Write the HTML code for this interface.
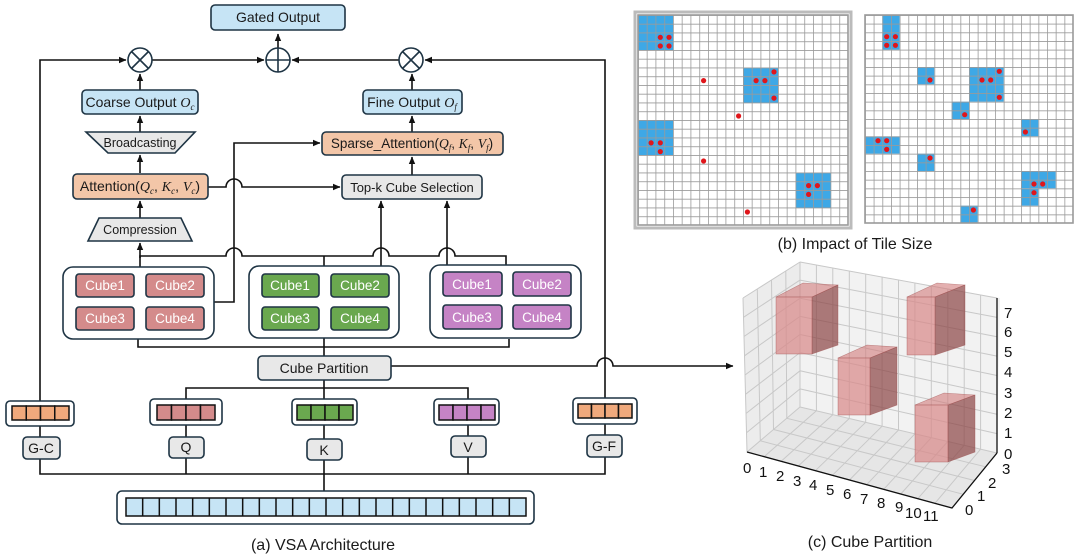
<!DOCTYPE html>
<html><head><meta charset="utf-8"><style>
html,body{margin:0;padding:0;background:#fff}
svg{display:block}
text{font-family:"Liberation Sans","DejaVu Sans",sans-serif}
.m{font-family:"Liberation Serif",serif;font-style:italic}
</style></head><body>
<svg width="1080" height="559" viewBox="0 0 1080 559" xmlns="http://www.w3.org/2000/svg">
<defs>
<marker id="a" markerWidth="8" markerHeight="8" refX="7" refY="4" orient="auto" markerUnits="userSpaceOnUse"><path d="M0,0.8 L7.5,4 L0,7.2 z" fill="#111"/></marker>
<pattern id="g1" x="638" y="15" width="8.75" height="8.75" patternUnits="userSpaceOnUse"><path d="M0,0 H8.75 M0,0 V8.75" stroke="#9a9a9a" stroke-width="1.6" fill="none"/></pattern>
<pattern id="g2" x="865" y="15" width="8.67" height="8.67" patternUnits="userSpaceOnUse"><path d="M0,0 H8.67 M0,0 V8.67" stroke="#9a9a9a" stroke-width="1.6" fill="none"/></pattern>
</defs>
<g stroke="#111" stroke-width="1.6" fill="none">
<path d="M278,48 V34" marker-end="url(#a)"/>
<path d="M40,410 V60 H126" marker-end="url(#a)"/>
<path d="M152,60 H264" marker-end="url(#a)"/>
<path d="M399,60 H292" marker-end="url(#a)"/>
<path d="M605,398 V60 H425" marker-end="url(#a)"/>
<path d="M140,90 V74" marker-end="url(#a)"/>
<path d="M412,90 V74" marker-end="url(#a)"/>
<path d="M140,132 V116" marker-end="url(#a)"/>
<path d="M412,132 V116" marker-end="url(#a)"/>
<path d="M140,173 V155" marker-end="url(#a)"/>
<path d="M412,175 V157" marker-end="url(#a)"/>
<path d="M140,218 V201" marker-end="url(#a)"/>
<path d="M208,187 H226 a8,8 0 0 1 16,0 H340" marker-end="url(#a)"/>
<path d="M214,302 H234 V143 H320" marker-end="url(#a)"/>
<path d="M140,267 V256 H226 a8,8 0 0 1 16,0 H373 a8,8 0 0 1 16,0 H439 a8,8 0 0 1 16,0 H506 V266"/>
<path d="M140,258 V243" marker-end="url(#a)"/>
<path d="M324,256 V266"/>
<path d="M381,266 V201" marker-end="url(#a)"/>
<path d="M447,266 V201" marker-end="url(#a)"/>
<path d="M138,339 V347 H509 V339 M324,338 V356"/>
<path d="M391,366 H597 a8,8 0 0 1 16,0 H733" marker-end="url(#a)"/>
<path d="M324,380 V399 M324,388 H186 V399 M324,388 H468 V399"/>
<path d="M40,426 V437 M186,425 V437 M324,425 V439 M468,425 V436 M605,424 V435"/>
<path d="M40,459 V474 H605 V457 M186,458 V474 M324,460 V491 M468,457 V474"/>
</g>
<g stroke="#1e3444" stroke-width="1.6" fill="#fff">
<circle cx="140" cy="60" r="12"/><path d="M131.5,51.5 L148.5,68.5 M148.5,51.5 L131.5,68.5"/>
<circle cx="278" cy="60" r="12"/><path d="M266,60 H290 M278,48 V72"/>
<circle cx="411" cy="60" r="12"/><path d="M402.5,51.5 L419.5,68.5 M419.5,51.5 L402.5,68.5"/>
</g>
<g stroke="#1e3444" stroke-width="1.6">
<rect x="211" y="5" width="134" height="25" rx="4" fill="#c6e4f5"/>
<rect x="82" y="90" width="116" height="24" rx="4" fill="#c6e4f5"/>
<rect x="363" y="90" width="99" height="24" rx="4" fill="#c6e4f5"/>
<polygon points="86,132 195,132 175,153 108,153" fill="#e8e8e8"/>
<rect x="322" y="132" width="181" height="23" rx="4" fill="#f3c6a8"/>
<rect x="73" y="174" width="135" height="25" rx="4" fill="#f3c6a8"/>
<rect x="342" y="175" width="140" height="24" rx="4" fill="#e8e8e8"/>
<polygon points="99,218 181,218 192,241 88,241" fill="#e8e8e8"/>
<rect x="63" y="267" width="151" height="72" rx="10" fill="#fff"/>
<rect x="249" y="266" width="150" height="72" rx="10" fill="#fff"/>
<rect x="430" y="265" width="151" height="73" rx="10" fill="#fff"/>
<g fill="#d48b8b"><rect x="76" y="274" width="58" height="23" rx="3"/><rect x="146" y="274" width="58" height="23" rx="3"/><rect x="76" y="307" width="58" height="23" rx="3"/><rect x="146" y="307" width="58" height="23" rx="3"/></g>
<g fill="#6aa84f"><rect x="262" y="274" width="57" height="23" rx="3"/><rect x="331" y="274" width="58" height="23" rx="3"/><rect x="262" y="307" width="57" height="23" rx="3"/><rect x="331" y="307" width="58" height="23" rx="3"/></g>
<g fill="#c583c5"><rect x="443" y="272" width="59" height="24" rx="3"/><rect x="513" y="272" width="58" height="24" rx="3"/><rect x="443" y="305" width="59" height="24" rx="3"/><rect x="513" y="305" width="58" height="24" rx="3"/></g>
<rect x="258" y="356" width="133" height="24" rx="4" fill="#e8e8e8"/>
<rect x="6" y="401" width="68" height="25" rx="4" fill="#fff"/>
<rect x="150" y="399" width="72" height="26" rx="4" fill="#fff"/>
<rect x="292" y="399" width="65" height="26" rx="4" fill="#fff"/>
<rect x="434" y="399" width="65" height="26" rx="4" fill="#fff"/>
<rect x="573" y="398" width="64" height="26" rx="4" fill="#fff"/>
<rect x="23" y="437" width="37" height="22" rx="4" fill="#e8e8e8"/>
<rect x="169" y="437" width="35" height="21" rx="4" fill="#e8e8e8"/>
<rect x="307" y="439" width="35" height="21" rx="4" fill="#e8e8e8"/>
<rect x="451" y="436" width="35" height="21" rx="4" fill="#e8e8e8"/>
<rect x="587" y="435" width="35" height="22" rx="4" fill="#e8e8e8"/>
<rect x="117" y="491" width="417" height="33" rx="5" fill="#fff"/>
</g>
<g stroke="#111" stroke-width="1.5">
<g fill="#f0a97c"><rect x="12" y="406" width="14.25" height="14"/><rect x="26.25" y="406" width="14.25" height="14"/><rect x="40.5" y="406" width="14.25" height="14"/><rect x="54.75" y="406" width="14.25" height="14"/></g>
<g fill="#d48b8b"><rect x="157" y="405" width="14.5" height="15"/><rect x="171.5" y="405" width="14.5" height="15"/><rect x="186" y="405" width="14.5" height="15"/><rect x="200.5" y="405" width="14.5" height="15"/></g>
<g fill="#6aa84f"><rect x="297" y="405" width="14" height="15"/><rect x="311" y="405" width="14" height="15"/><rect x="325" y="405" width="14" height="15"/><rect x="339" y="405" width="14" height="15"/></g>
<g fill="#c583c5"><rect x="439" y="405" width="14" height="15"/><rect x="453" y="405" width="14" height="15"/><rect x="467" y="405" width="14" height="15"/><rect x="481" y="405" width="14" height="15"/></g>
<g fill="#f0a97c"><rect x="578" y="404" width="13.5" height="14"/><rect x="591.5" y="404" width="13.5" height="14"/><rect x="605" y="404" width="13.5" height="14"/><rect x="618.5" y="404" width="13.5" height="14"/></g>
<rect x="126" y="498" width="400" height="18" fill="#c6e4f5"/>
<path fill="none" d="M142.67,498V516M159.33,498V516M176,498V516M192.67,498V516M209.33,498V516M226,498V516M242.67,498V516M259.33,498V516M276,498V516M292.67,498V516M309.33,498V516M326,498V516M342.67,498V516M359.33,498V516M376,498V516M392.67,498V516M409.33,498V516M426,498V516M442.67,498V516M459.33,498V516M476,498V516M492.67,498V516M509.33,498V516"/>
</g>
<g font-size="14" fill="#1a1a1a" text-anchor="middle">
<text x="278" y="22">Gated Output</text>
<text x="140" y="107">Coarse Output <tspan class="m">O</tspan><tspan class="m" font-size="9" dy="3">c</tspan></text>
<text x="412" y="107">Fine Output <tspan class="m">O</tspan><tspan class="m" font-size="9" dy="3">f</tspan></text>
<text x="140" y="147" font-size="12.5">Broadcasting</text>
<text x="412" y="148" font-size="13.5">Sparse_Attention(<tspan class="m">Q</tspan><tspan class="m" font-size="9" dy="3">f</tspan><tspan dy="-3">, </tspan><tspan class="m">K</tspan><tspan class="m" font-size="9" dy="3">f</tspan><tspan dy="-3">, </tspan><tspan class="m">V</tspan><tspan class="m" font-size="9" dy="3">f</tspan><tspan dy="-3">)</tspan></text>
<text x="140" y="191">Attention(<tspan class="m">Q</tspan><tspan class="m" font-size="9" dy="3">c</tspan><tspan dy="-3">, </tspan><tspan class="m">K</tspan><tspan class="m" font-size="9" dy="3">c</tspan><tspan dy="-3">, </tspan><tspan class="m">V</tspan><tspan class="m" font-size="9" dy="3">c</tspan><tspan dy="-3">)</tspan></text>
<text x="412" y="192" font-size="13">Top-k Cube Selection</text>
<text x="140" y="234" font-size="12.5">Compression</text>
<text x="324" y="373">Cube Partition</text>
<text x="41" y="453">G-C</text><text x="186" y="452">Q</text><text x="324" y="455">K</text><text x="468" y="452">V</text><text x="604" y="451">G-F</text>
<g fill="#fff" font-size="13.5">
<text x="105" y="290">Cube1</text><text x="175" y="290">Cube2</text><text x="105" y="323">Cube3</text><text x="175" y="323">Cube4</text>
<text x="290" y="290">Cube1</text><text x="360" y="290">Cube2</text><text x="290" y="323">Cube3</text><text x="360" y="323">Cube4</text>
<text x="472" y="289">Cube1</text><text x="542" y="289">Cube2</text><text x="472" y="322">Cube3</text><text x="542" y="322">Cube4</text>
</g>
<text x="323" y="550" font-size="16">(a) VSA Architecture</text>
<text x="855" y="249" font-size="16">(b) Impact of Tile Size</text>
<text x="870" y="547" font-size="16">(c) Cube Partition</text>
</g>
<rect x="635" y="12" width="216" height="216" fill="#fff" stroke="#bbb" stroke-width="3"/>
<g fill="#3ea8e6">
<rect x="638" y="15" width="35" height="35"/><rect x="743" y="67.5" width="35" height="35"/><rect x="638" y="120" width="35" height="35"/><rect x="795.5" y="172.5" width="35" height="35"/>
</g>
<rect x="638" y="15" width="210" height="210" fill="url(#g1)"/>
<rect x="638" y="15" width="210" height="210" fill="none" stroke="#9a9a9a" stroke-width="1.6"/>
<g fill="#e0161b">
<circle cx="660.3" cy="37.3" r="2.6"/><circle cx="669" cy="37.3" r="2.6"/><circle cx="660.3" cy="46" r="2.6"/><circle cx="669" cy="46" r="2.6"/>
<circle cx="774" cy="71.9" r="2.6"/><circle cx="756.1" cy="80.6" r="2.6"/><circle cx="764.9" cy="80.6" r="2.6"/><circle cx="774" cy="98.1" r="2.6"/>
<circle cx="651.1" cy="142.9" r="2.6"/><circle cx="660.3" cy="142.9" r="2.6"/><circle cx="660.3" cy="151.6" r="2.6"/>
<circle cx="808.6" cy="185.6" r="2.6"/><circle cx="817.4" cy="185.6" r="2.6"/><circle cx="808.6" cy="194.4" r="2.6"/>
<circle cx="703.6" cy="80.6" r="2.6"/><circle cx="738.6" cy="116" r="2.6"/><circle cx="703.6" cy="161" r="2.6"/><circle cx="747.4" cy="212" r="2.6"/>
</g>
<rect x="865" y="15" width="208" height="208" fill="#fff"/>
<g fill="#3ea8e6">
<rect x="882.3" y="15" width="17.3" height="34.7"/>
<rect x="917" y="67" width="17.3" height="17.3"/>
<rect x="969" y="67" width="34.7" height="34.7"/>
<rect x="951.7" y="101.7" width="17.3" height="17.3"/>
<rect x="1021" y="119" width="17.3" height="17.3"/>
<rect x="865" y="136.4" width="34.7" height="17.3"/>
<rect x="917" y="153.7" width="17.3" height="17.3"/>
<rect x="1021" y="171" width="34.7" height="17.3"/><rect x="1021" y="188.4" width="17.3" height="17.3"/>
<rect x="960.4" y="205.7" width="17.3" height="17.3"/>
</g>
<rect x="865" y="15" width="208" height="208" fill="url(#g2)"/>
<rect x="865" y="15" width="208" height="208" fill="none" stroke="#9a9a9a" stroke-width="1.6"/>
<g fill="#e0161b">
<circle cx="886.7" cy="36.7" r="2.6"/><circle cx="895.4" cy="36.7" r="2.6"/><circle cx="886.7" cy="45.3" r="2.6"/><circle cx="895.4" cy="45.3" r="2.6"/>
<circle cx="930" cy="80" r="2.6"/>
<circle cx="999.3" cy="71.3" r="2.6"/><circle cx="982" cy="80" r="2.6"/><circle cx="990.7" cy="80" r="2.6"/><circle cx="999.3" cy="97.3" r="2.6"/>
<circle cx="964.7" cy="114.7" r="2.6"/><circle cx="1025.4" cy="132" r="2.6"/>
<circle cx="878" cy="140.7" r="2.6"/><circle cx="886.7" cy="140.7" r="2.6"/><circle cx="886.7" cy="149.4" r="2.6"/>
<circle cx="930" cy="158" r="2.6"/>
<circle cx="1034" cy="184" r="2.6"/><circle cx="1042.7" cy="184" r="2.6"/><circle cx="1034" cy="192.7" r="2.6"/>
<circle cx="973.4" cy="210" r="2.6"/>
</g>
<g stroke="none">
<polygon points="743,298 800,262 800,407 747,452" fill="#ececec"/>
<polygon points="800,262 1000,298 997,453 800,407" fill="#f2f2f2"/>
<polygon points="800,407 997,453 952,508 747,452" fill="#e6e6e6"/>
</g>
<g id="lines3d" stroke="#c8c8c8" stroke-width="1" fill="none"></g>
<g stroke="#111" stroke-width="1.3" fill="none">
<path d="M747,452 L952,508 L997,453"/>
<path d="M997,298 V453"/>
</g>
<g font-size="15" fill="#111">
<text x="1004" y="318">7</text><text x="1004" y="337">6</text><text x="1004" y="357">5</text><text x="1004" y="377">4</text><text x="1004" y="398">3</text><text x="1004" y="418">2</text><text x="1004" y="438">1</text><text x="1004" y="459">0</text>
<text x="743" y="473">0</text><text x="759" y="477">1</text><text x="776" y="481">2</text><text x="793" y="486">3</text><text x="809" y="490">4</text><text x="826" y="495">5</text><text x="843" y="499">6</text><text x="860" y="504">7</text><text x="877" y="508">8</text><text x="895" y="512">9</text><text x="905" y="518">10</text><text x="923" y="521">11</text>
<text x="1002" y="474">3</text><text x="988" y="488">2</text><text x="977" y="501">1</text><text x="965" y="515">0</text>
</g>
<g stroke="#a05050" stroke-width="0.6" stroke-opacity="0.6">
<g><polygon points="776,297 812,297 838,285 803,283" fill="#d27c7c" fill-opacity="0.6"/><polygon points="812,297 838,285 838,345 812,354" fill="#8c4444" fill-opacity="0.7"/><rect x="776" y="297" width="36" height="57" fill="#d98888" fill-opacity="0.7"/></g>
<g><polygon points="907,297 935,297 965,285 937,283" fill="#d27c7c" fill-opacity="0.6"/><polygon points="935,297 965,285 965,345 935,355" fill="#8c4444" fill-opacity="0.7"/><rect x="907" y="297" width="28" height="58" fill="#d98888" fill-opacity="0.7"/></g>
<g><polygon points="838,358 870,358 897,347 867,345" fill="#d27c7c" fill-opacity="0.6"/><polygon points="870,358 897,347 897,405 870,415" fill="#8c4444" fill-opacity="0.7"/><rect x="838" y="358" width="32" height="57" fill="#d98888" fill-opacity="0.7"/></g>
<g><polygon points="915,405 948,405 975,395 944,393" fill="#d27c7c" fill-opacity="0.6"/><polygon points="948,405 975,395 975,452 948,462" fill="#8c4444" fill-opacity="0.7"/><rect x="915" y="405" width="33" height="57" fill="#d98888" fill-opacity="0.7"/></g>
</g>
<script>
(function(){
var g=document.getElementById('lines3d'),d='';
function L(a,b){d+='M'+a[0].toFixed(1)+','+a[1].toFixed(1)+'L'+b[0].toFixed(1)+','+b[1].toFixed(1);}
function lerp(p,q,t){return [p[0]+(q[0]-p[0])*t,p[1]+(q[1]-p[1])*t];}
function quad(A,B,C,D,nu,nv){
for(var i=0;i<=nu;i++){var t=i/nu;L(lerp(A,B,t),lerp(D,C,t));}
for(var j=0;j<=nv;j++){var s=j/nv;L(lerp(A,D,s),lerp(B,C,s));}}
quad([800,262],[997,298],[997,453],[800,407],12,8);
quad([743,298],[800,262],[800,407],[747,452],4,8);
quad([800,407],[997,453],[952,508],[747,452],12,4);
var p=document.createElementNS('http://www.w3.org/2000/svg','path');p.setAttribute('d',d);g.appendChild(p);
})();
</script>
</svg>
</body></html>
